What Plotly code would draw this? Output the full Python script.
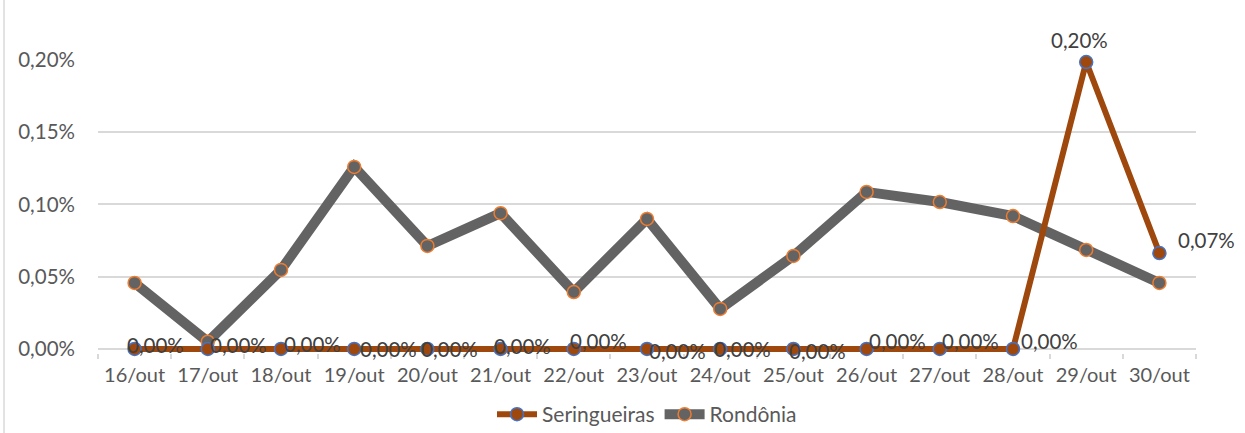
import plotly.graph_objects as go

dates = ["16/out", "17/out", "18/out", "19/out", "20/out", "21/out", "22/out", "23/out",
         "24/out", "25/out", "26/out", "27/out", "28/out", "29/out", "30/out"]
seringueiras = [0.0, 0.0, 0.0, 0.0, 0.0, 0.0, 0.0, 0.0, 0.0, 0.0, 0.0, 0.0, 0.0, 0.001986, 0.000664]
rondonia = [0.000457, 0.000050, 0.000547, 0.001260, 0.000713, 0.000940, 0.000394, 0.000900,
            0.000277, 0.000644, 0.001087, 0.001017, 0.000920, 0.000685, 0.000457]
y_ticks = [0.0, 0.0005, 0.0010, 0.0015, 0.0020]

# label offsets (pixels) for the Seringueiras data labels
label_dx = [21, 31, 31, 34, 22, 22, 25, 30, 22, 24, 31, 31, 36, -7, 47]
label_dy = [4, 4, 5, 0, 0, 3, 8, -2, 0, -2, 8, 8, 8, 22, 13]

FONT = "Lato, Carlito, 'Open Sans', sans-serif"
TXT = "#595959"

fig = go.Figure()
fig.add_trace(go.Scatter(
    x=dates, y=rondonia, name="Rondônia", mode="lines+markers", cliponaxis=False,
    line=dict(color="#636363", width=10),
    marker=dict(size=13, color="#636363", line=dict(color="#ED7D31", width=1.5)),
    legendrank=2,
))
fig.add_trace(go.Scatter(
    x=dates, y=seringueiras, name="Seringueiras", mode="lines+markers", cliponaxis=False,
    line=dict(color="#9E480E", width=6),
    marker=dict(size=13, color="#9E480E", line=dict(color="#4472C4", width=1.5)),
    legendrank=1,
))

for d, v, dx, dy in zip(dates, seringueiras, label_dx, label_dy):
    fig.add_annotation(
        x=d, y=v, text=f"{v*100:.2f}%".replace(".", ","), showarrow=False,
        xanchor="center", yanchor="middle", xshift=dx, yshift=dy,
        font=dict(family=FONT, size=20.5, color="#404040"),
    )

fig.add_shape(type="line", xref="paper", yref="paper",
              x0=-0.0856, x1=-0.0856, y0=-0.3, y1=1.25,
              line=dict(color="#D9D9D9", width=1.5))

fig.update_layout(
    width=1245, height=433,
    margin=dict(l=98, r=49, t=60, b=80, autoexpand=False),
    paper_bgcolor="white", plot_bgcolor="white",
    separators=",.",
    font=dict(family=FONT, size=20, color=TXT),
    showlegend=True,
    legend=dict(orientation="h", x=0.5, xanchor="center", y=-0.21, yanchor="middle",
                font=dict(family=FONT, size=21, color=TXT), itemwidth=40,
                traceorder="normal"),
)
fig.update_xaxes(
    type="category", range=[-0.5, 14.5], showgrid=False, showline=False,
    tickangle=0, ticklabelstandoff=8,
    ticks="outside", tickson="boundaries", ticklen=5, tickcolor="#D9D9D9", tickwidth=1.5,
    tickfont=dict(family=FONT, size=20, color=TXT),
)
fig.update_yaxes(
    range=[-0.000028, 0.0020], tickvals=y_ticks, tickformat=".2%",
    showgrid=True, gridcolor="#D9D9D9", gridwidth=1.5,
    zeroline=True, zerolinecolor="#D9D9D9", zerolinewidth=1.5,
    showline=False, ticks="", ticklabelstandoff=22,
    tickfont=dict(family=FONT, size=20.5, color=TXT),
)

fig.write_html("out.html", config={"displayModeBar": False},
               post_script="document.body.style.margin='0px';")
